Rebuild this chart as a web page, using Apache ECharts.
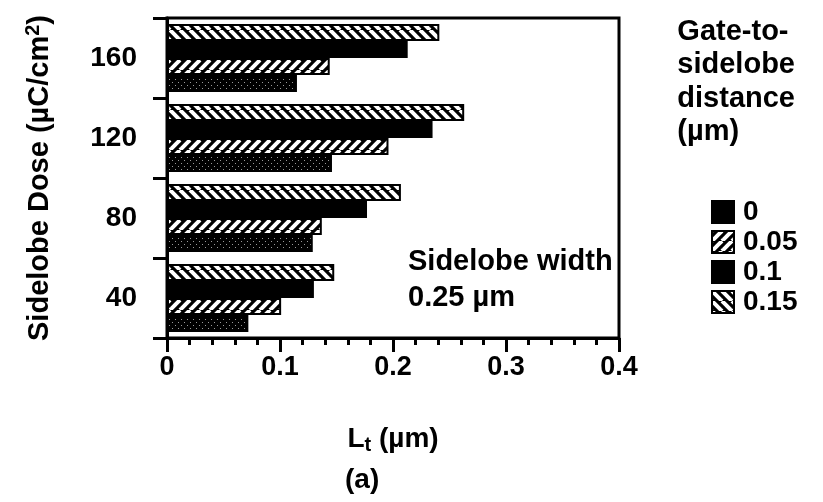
<!DOCTYPE html>
<html>
<head>
<meta charset="utf-8">
<script src="https://cdn.jsdelivr.net/npm/echarts@6/dist/echarts.min.js"></script>
<style>html,body{margin:0;padding:0;background:#fff;}#c{width:823px;height:502px;}</style>
</head>
<body>
<div id="c"></div>
<script>
// ---- data ----
var categories = ['40', '80', '120', '160'];
var seriesNames = ['0', '0.05', '0.1', '0.15'];
var dist0 = [0.072, 0.129, 0.146, 0.115];
var dist005 = [0.101, 0.137, 0.196, 0.144];
var dist01 = [0.130, 0.177, 0.235, 0.213];
var dist015 = [0.148, 0.207, 0.263, 0.241];
var xTicks = [0, 0.1, 0.2, 0.3, 0.4];

var FONT = 'Liberation Sans';

function hatch(forward) {
  var s = 10, c = document.createElement('canvas');
  c.width = s; c.height = s;
  var g = c.getContext('2d');
  g.fillStyle = '#000'; g.fillRect(0, 0, s, s);
  g.strokeStyle = '#fff'; g.lineWidth = 4;
  for (var k = -1; k <= 1; k++) {
    g.beginPath();
    if (forward) { g.moveTo(k * s, s); g.lineTo(k * s + s, 0); }
    else { g.moveTo(k * s, 0); g.lineTo(k * s + s, s); }
    g.stroke();
  }
  return c;
}
function stipple() {
  var s = 6, c = document.createElement('canvas');
  c.width = s; c.height = s;
  var g = c.getContext('2d');
  g.fillStyle = '#000'; g.fillRect(0, 0, s, s);
  g.fillStyle = '#999';
  g.fillRect(1, 1, 1, 1); g.fillRect(4, 4, 1, 1);
  return c;
}

var chart = echarts.init(document.getElementById('c'));
var values = [dist0, dist005, dist01, dist015];
var fills = [
  { image: stipple(), repeat: 'repeat' },
  { image: hatch(true), repeat: 'repeat' },
  '#000',
  { image: hatch(false), repeat: 'repeat' }
];
var series = [];
// added in reverse so that '0' sits at the bottom of each group
for (var i = seriesNames.length - 1; i >= 0; i--) {
  series.push({
    name: seriesNames[i], type: 'bar', data: values[i],
    barGap: '0%', barCategoryGap: '15%',
    itemStyle: { color: fills[i], borderColor: '#000', borderWidth: 2 }
  });
}

chart.setOption({
  animation: false,
  grid: { left: 167, right: 204, top: 18, bottom: 164, show: true, borderColor: '#000', borderWidth: 3, backgroundColor: 'transparent' },
  xAxis: {
    type: 'value', min: xTicks[0], max: xTicks[xTicks.length - 1], interval: 0.1,
    splitLine: { show: false },
    axisLine: { show: true, lineStyle: { color: '#000', width: 3 } },
    axisTick: { show: true, length: 14, lineStyle: { color: '#000', width: 3 } },
    minorTick: { show: true, splitNumber: 5, length: 7, lineStyle: { color: '#000', width: 3 } },
    axisLabel: { color: '#000', fontFamily: FONT, fontWeight: 'bold', fontSize: 27, margin: 16 },
    name: 'L{sub|t} (µm)', nameLocation: 'middle', nameGap: 85,
    nameTextStyle: {
      color: '#000', fontFamily: FONT, fontWeight: 'bold', fontSize: 28,
      rich: { sub: { fontFamily: FONT, fontWeight: 'bold', fontSize: 20, verticalAlign: 'bottom', padding: [12, 0, 0, 0], color: '#000' } }
    }
  },
  yAxis: {
    type: 'category', data: categories,
    axisLine: { show: true, lineStyle: { color: '#000', width: 3 } },
    axisTick: { show: true, length: 14, lineStyle: { color: '#000', width: 3 } },
    axisLabel: { color: '#000', fontFamily: FONT, fontWeight: 'bold', fontSize: 28, margin: 30 },
    name: 'Sidelobe Dose (µC/cm{sup|2})', nameLocation: 'middle', nameGap: 110,
    nameTextStyle: {
      color: '#000', fontFamily: FONT, fontWeight: 'bold', fontSize: 29,
      rich: { sup: { fontFamily: FONT, fontWeight: 'bold', fontSize: 20, verticalAlign: 'top', padding: [0, 0, 14, 0], color: '#000' } }
    }
  },
  legend: {
    orient: 'vertical', left: 706, top: 193, itemWidth: 22, itemHeight: 22, itemGap: 2,
    icon: 'rect',
    data: [
      { name: '0', itemStyle: { color: '#000' } },
      { name: '0.05' }, { name: '0.1' }, { name: '0.15' }
    ],
    textStyle: { color: '#000', fontFamily: FONT, fontWeight: 'bold', fontSize: 28, padding: [0, 0, 0, 4] }
  },
  graphic: [
    { type: 'text', left: 408, top: 244, style: { text: 'Sidelobe width\n0.25 µm', fill: '#000', font: 'bold 29px "Liberation Sans"', lineHeight: 36 } },
    { type: 'text', right: 28, top: 15, style: { text: 'Gate-to-\nsidelobe\ndistance\n(µm)', fill: '#000', font: 'bold 29px "Liberation Sans"', lineHeight: 33.5, align: 'right' } },
    { type: 'text', left: 345, top: 466, style: { text: '(a)', fill: '#000', font: 'bold 28px "Liberation Sans"' } }
  ],
  series: series
});
</script>
</body>
</html>
